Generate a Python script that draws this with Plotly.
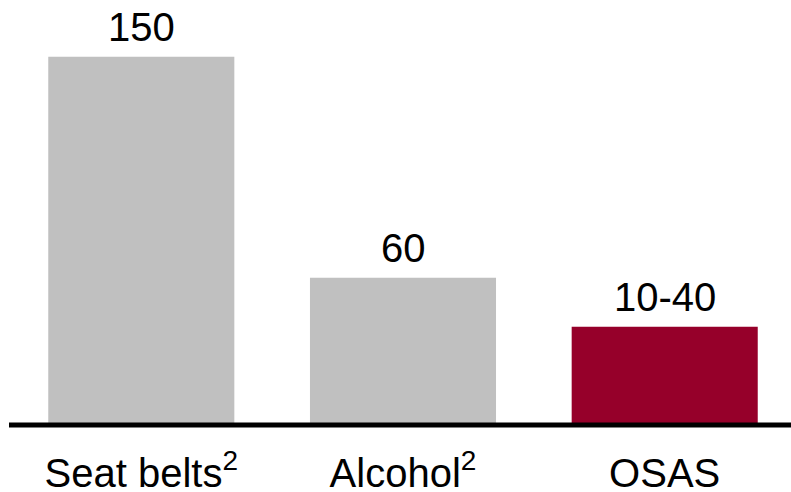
import plotly.graph_objects as go

categories = ["Seat belts<sup>2</sup>", "Alcohol<sup>2</sup>", "OSAS"]
values = [150, 60, 40]
value_labels = ["150", "60", "10-40"]
bar_colors = ["#C0C0C0", "#C0C0C0", "#96002A"]

fig = go.Figure()
fig.add_trace(go.Bar(
    x=[0, 1, 2],
    y=values,
    marker=dict(color=bar_colors, line=dict(width=0)),
    width=0.711,
    cliponaxis=False,
    hoverinfo="skip",
))

for xi, v, lab in zip([0, 1, 2], values, value_labels):
    fig.add_annotation(x=xi, y=v, text=lab, showarrow=False, xref="x", yref="y",
                       yanchor="bottom", yshift=6,
                       font=dict(size=40, color="black", family="Liberation Sans, Arial, sans-serif"))

fig.add_shape(type="line", xref="paper", yref="y", x0=0, x1=1, y0=0, y1=0,
              line=dict(color="black", width=5))

fig.update_layout(
    width=791, height=492,
    margin=dict(l=9, r=0, t=0, b=64, autoexpand=False),
    paper_bgcolor="white", plot_bgcolor="white",
    showlegend=False,
    font=dict(family="Liberation Sans, Arial, sans-serif", size=40, color="black"),
    xaxis=dict(
        range=[-0.5055, 2.4826],
        tickmode="array", tickvals=[0, 1, 2], ticktext=categories,
        showgrid=False, zeroline=False, showline=False, ticks="",
        tickfont=dict(size=40, color="black"),
        automargin=False,
        ticklabelstandoff=18,
        fixedrange=True,
    ),
    yaxis=dict(
        range=[-1.222, 173.1],
        visible=False, showgrid=False, zeroline=False,
        automargin=False,
        fixedrange=True,
    ),
)

fig.write_html("out.html", config={"displayModeBar": False, "staticPlot": True},
               post_script="document.body.style.margin='0';document.body.style.overflow='hidden';")
